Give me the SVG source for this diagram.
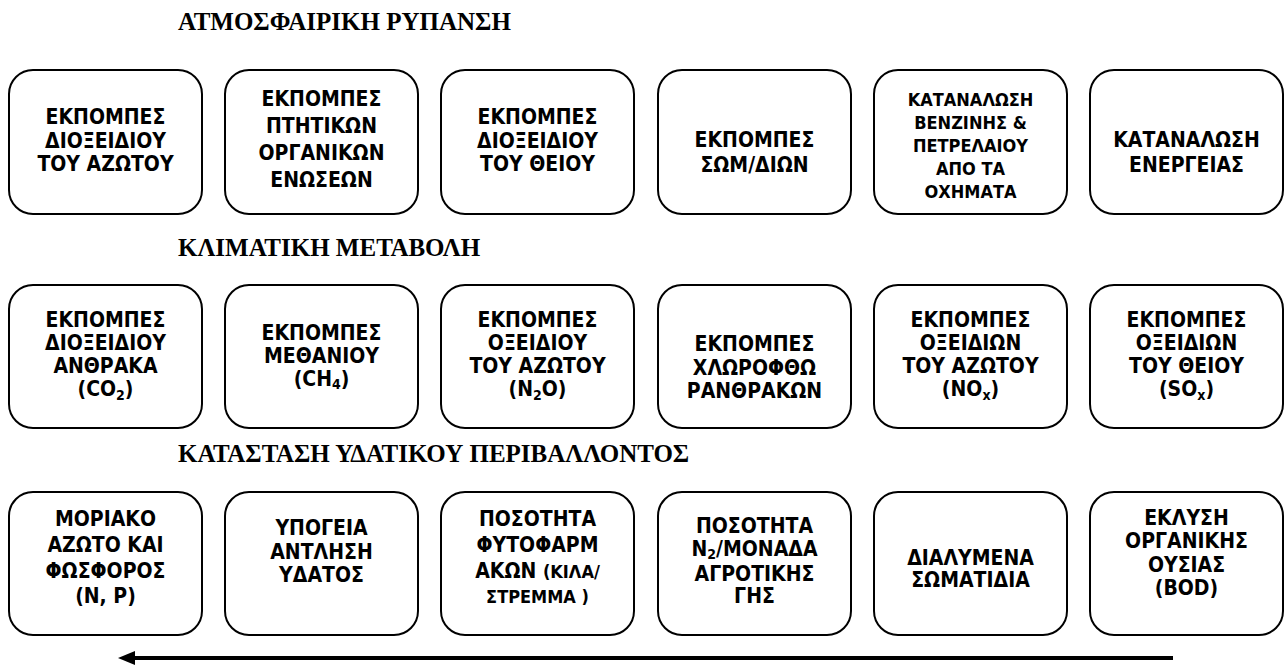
<svg xmlns="http://www.w3.org/2000/svg" width="1285" height="666" viewBox="0 0 1285 666">
<style>
.box{fill:#fff;stroke:#000;stroke-width:2}
.t{font-family:'DejaVu Sans Condensed','DejaVu Sans',sans-serif;font-stretch:condensed;font-weight:bold;font-size:21px;text-anchor:middle;fill:#000}
.s{font-size:18px}
.sub{font-size:14px}
.h{font-family:'Liberation Serif','Times New Roman',serif;font-weight:bold;font-size:25px;fill:#000}
.arrow{stroke:#000;stroke-width:4;fill:none}
</style>
<defs>
<marker id="ah" markerUnits="userSpaceOnUse" markerWidth="17" markerHeight="14" refX="2" refY="7" orient="auto">
<path d="M0,0 L17,7 L0,14 z" fill="#000"/>
</marker>
</defs>
<rect width="1285" height="666" fill="#fff"/>
<text class="h" x="178" y="30">ΑΤΜΟΣΦΑΙΡΙΚΗ ΡΥΠΑΝΣΗ</text>
<text class="h" x="178" y="256">ΚΛΙΜΑΤΙΚΗ ΜΕΤΑΒΟΛΗ</text>
<text class="h" x="178" y="462">ΚΑΤΑΣΤΑΣΗ ΥΔΑΤΙΚΟΥ ΠΕΡΙΒΑΛΛΟΝΤΟΣ</text>

<g id="r1n1"><rect class="box" x="9" y="70" width="193" height="144" rx="24"/>
<text class="t"><tspan x="105.5" y="124">ΕΚΠΟΜΠΕΣ</tspan><tspan x="105.5" y="147.5">ΔΙΟΞΕΙΔΙΟΥ</tspan><tspan x="105.5" y="171">ΤΟΥ ΑΖΩΤΟΥ</tspan></text></g>
<g id="r1n2"><rect class="box" x="225" y="70" width="193" height="144" rx="24"/>
<text class="t"><tspan x="321.5" y="106">ΕΚΠΟΜΠΕΣ</tspan><tspan x="321.5" y="133">ΠΤΗΤΙΚΩΝ</tspan><tspan x="321.5" y="160">ΟΡΓΑΝΙΚΩΝ</tspan><tspan x="321.5" y="187">ΕΝΩΣΕΩΝ</tspan></text></g>
<g id="r1n3"><rect class="box" x="441" y="70" width="193" height="144" rx="24"/>
<text class="t"><tspan x="537.5" y="124">ΕΚΠΟΜΠΕΣ</tspan><tspan x="537.5" y="147.5">ΔΙΟΞΕΙΔΙΟΥ</tspan><tspan x="537.5" y="171">ΤΟΥ ΘΕΙΟΥ</tspan></text></g>
<g id="r1n4"><rect class="box" x="658" y="70" width="193" height="144" rx="24"/>
<text class="t"><tspan x="754.5" y="147">ΕΚΠΟΜΠΕΣ</tspan><tspan x="754.5" y="172">ΣΩΜ/ΔΙΩΝ</tspan></text></g>
<g id="r1n5"><rect class="box" x="874" y="70" width="193" height="144" rx="24"/>
<text class="t s"><tspan x="970.5" y="106">ΚΑΤΑΝΑΛΩΣΗ</tspan><tspan x="970.5" y="129">ΒΕΝΖΙΝΗΣ &amp;</tspan><tspan x="970.5" y="152">ΠΕΤΡΕΛΑΙΟΥ</tspan><tspan x="970.5" y="175">ΑΠΟ ΤΑ</tspan><tspan x="970.5" y="198">ΟΧΗΜΑΤΑ</tspan></text></g>
<g id="r1n6"><rect class="box" x="1090" y="70" width="193" height="144" rx="24"/>
<text class="t"><tspan x="1186.5" y="147">ΚΑΤΑΝΑΛΩΣΗ</tspan><tspan x="1186.5" y="172">ΕΝΕΡΓΕΙΑΣ</tspan></text></g>

<g id="r2n1"><rect class="box" x="9" y="285" width="193" height="143" rx="24"/>
<text class="t"><tspan x="105.5" y="327">ΕΚΠΟΜΠΕΣ</tspan><tspan x="105.5" y="350">ΔΙΟΞΕΙΔΙΟΥ</tspan><tspan x="105.5" y="373">ΑΝΘΡΑΚΑ</tspan><tspan x="105.5" y="396">(CO<tspan class="sub" dy="4">2</tspan><tspan dy="-4">)</tspan></tspan></text></g>
<g id="r2n2"><rect class="box" x="225" y="285" width="193" height="143" rx="24"/>
<text class="t"><tspan x="321.5" y="340">ΕΚΠΟΜΠΕΣ</tspan><tspan x="321.5" y="363">ΜΕΘΑΝΙΟΥ</tspan><tspan x="321.5" y="386">(CH<tspan class="sub" dy="3">4</tspan><tspan dy="-3">)</tspan></tspan></text></g>
<g id="r2n3"><rect class="box" x="441" y="285" width="193" height="143" rx="24"/>
<text class="t"><tspan x="537.5" y="327">ΕΚΠΟΜΠΕΣ</tspan><tspan x="537.5" y="350">ΟΞΕΙΔΙΟΥ</tspan><tspan x="537.5" y="373">ΤΟΥ ΑΖΩΤΟΥ</tspan><tspan x="537.5" y="396">(N<tspan class="sub" dy="4">2</tspan><tspan dy="-4">O)</tspan></tspan></text></g>
<g id="r2n4"><rect class="box" x="658" y="285" width="193" height="143" rx="24"/>
<text class="t"><tspan x="754.5" y="351">ΕΚΠΟΜΠΕΣ</tspan><tspan x="754.5" y="374.5">ΧΛΩΡΟΦΘΩ</tspan><tspan x="754.5" y="398">ΡΑΝΘΡΑΚΩΝ</tspan></text></g>
<g id="r2n5"><rect class="box" x="874" y="285" width="193" height="143" rx="24"/>
<text class="t"><tspan x="970.5" y="327">ΕΚΠΟΜΠΕΣ</tspan><tspan x="970.5" y="350">ΟΞΕΙΔΙΩΝ</tspan><tspan x="970.5" y="373">ΤΟΥ ΑΖΩΤΟΥ</tspan><tspan x="970.5" y="396">(NO<tspan class="sub" dy="4">x</tspan><tspan dy="-4">)</tspan></tspan></text></g>
<g id="r2n6"><rect class="box" x="1090" y="285" width="193" height="143" rx="24"/>
<text class="t"><tspan x="1186.5" y="327">ΕΚΠΟΜΠΕΣ</tspan><tspan x="1186.5" y="350">ΟΞΕΙΔΙΩΝ</tspan><tspan x="1186.5" y="373">ΤΟΥ ΘΕΙΟΥ</tspan><tspan x="1186.5" y="396">(SO<tspan class="sub" dy="4">x</tspan><tspan dy="-4">)</tspan></tspan></text></g>

<g id="r3n1"><rect class="box" x="9" y="492" width="193" height="143" rx="24"/>
<text class="t"><tspan x="105.5" y="526">ΜΟΡΙΑΚΟ</tspan><tspan x="105.5" y="552">ΑΖΩΤΟ ΚΑΙ</tspan><tspan x="105.5" y="578">ΦΩΣΦΟΡΟΣ</tspan><tspan x="105.5" y="603">(N, P)</tspan></text></g>
<g id="r3n2"><rect class="box" x="225" y="492" width="193" height="143" rx="24"/>
<text class="t"><tspan x="321.5" y="535">ΥΠΟΓΕΙΑ</tspan><tspan x="321.5" y="558.5">ΑΝΤΛΗΣΗ</tspan><tspan x="321.5" y="582">ΥΔΑΤΟΣ</tspan></text></g>
<g id="r3n3"><rect class="box" x="441" y="492" width="193" height="143" rx="24"/>
<text class="t"><tspan x="537.5" y="526">ΠΟΣΟΤΗΤΑ</tspan><tspan x="537.5" y="552">ΦΥΤΟΦΑΡΜ</tspan><tspan x="537.5" y="578">ΑΚΩΝ <tspan class="s">(ΚΙΛΑ/</tspan></tspan><tspan x="537.5" y="603" class="s">ΣΤΡΕΜΜΑ )</tspan></text></g>
<g id="r3n4"><rect class="box" x="658" y="492" width="193" height="143" rx="24"/>
<text class="t"><tspan x="754.5" y="533">ΠΟΣΟΤΗΤΑ</tspan><tspan x="754.5" y="556">N<tspan class="sub" dy="3">2</tspan><tspan dy="-3">/ΜΟΝΑΔΑ</tspan></tspan><tspan x="754.5" y="581">ΑΓΡΟΤΙΚΗΣ</tspan><tspan x="754.5" y="603">ΓΗΣ</tspan></text></g>
<g id="r3n5"><rect class="box" x="874" y="492" width="193" height="143" rx="24"/>
<text class="t"><tspan x="970.5" y="564.5">ΔΙΑΛΥΜΕΝΑ</tspan><tspan x="970.5" y="587">ΣΩΜΑΤΙΔΙΑ</tspan></text></g>
<g id="r3n6"><rect class="box" x="1090" y="492" width="193" height="143" rx="24"/>
<text class="t"><tspan x="1186.5" y="525">ΕΚΛΥΣΗ</tspan><tspan x="1186.5" y="548">ΟΡΓΑΝΙΚΗΣ</tspan><tspan x="1186.5" y="571.5">ΟΥΣΙΑΣ</tspan><tspan x="1186.5" y="595">(BOD)</tspan></text></g>

<g id="connectors">
<line class="arrow" x1="1173" y1="658" x2="133" y2="658" marker-end="url(#ah)"/>
</g>
</svg>
